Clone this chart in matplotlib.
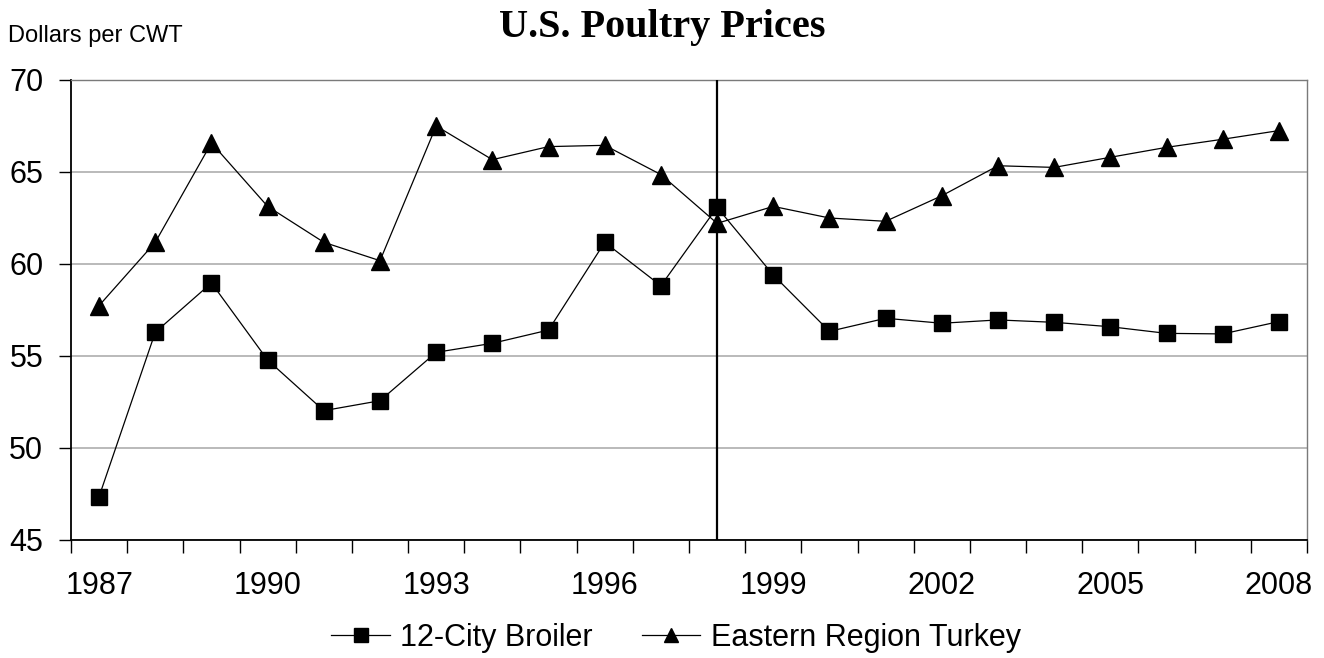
import numpy as np
import matplotlib
matplotlib.use('Agg')
import matplotlib.pyplot as plt

years = list(range(1987, 2009))
broiler = [47.36, 56.29, 58.97, 54.78, 52.03, 52.57, 55.2, 55.69, 56.41, 61.18, 58.82,
           63.08, 59.4, 56.34, 57.05, 56.78, 56.96, 56.83, 56.59, 56.23, 56.2, 56.87]
turkey = [57.74, 61.18, 66.58, 63.13, 61.18, 60.18, 67.5, 65.67, 66.38, 66.45, 64.86,
          62.21, 63.13, 62.5, 62.32, 63.71, 65.34, 65.25, 65.8, 66.34, 66.78, 67.25]
label_years = [1987, 1990, 1993, 1996, 1999, 2002, 2005, 2008]
divider_year = 1998

plt.rcParams['font.family'] = ['Liberation Sans', 'DejaVu Sans']

W, H = 1324, 658
fig = plt.figure(figsize=(W/100, H/100), dpi=100)
ax = fig.add_axes([71/W, (H-540)/H, 1236/W, 460/H])

ax.plot(years, broiler, color='black', lw=0.9, marker='s', ms=11.5, label='12-City Broiler', zorder=3)
ax.plot(years, turkey, color='black', lw=0.9, marker='^', ms=12.5, label='Eastern Region Turkey', zorder=3)
ax.axvline(divider_year, color='black', lw=1.6, zorder=4)

ax.set_xlim(1986.5, 2008.5)
ax.set_ylim(45, 70)
ax.set_yticks([45, 50, 55, 60, 65, 70])
ax.yaxis.grid(True, color='#b4b4b4', lw=1.3)
ax.set_axisbelow(True)

# year labels every 3 years, tick marks between categories
ax.set_xticks(label_years)
ax.set_xticks(np.arange(1986.5, 2009, 1), minor=True)
ax.tick_params(axis='x', which='major', length=0, pad=22, labelsize=22)
ax.tick_params(axis='x', which='minor', length=9, width=1, direction='out')
ax.tick_params(axis='y', length=9, width=1, labelsize=22, pad=11)

for s in ['left', 'bottom']:
    ax.spines[s].set_color('black')
    ax.spines[s].set_linewidth(1.3)
for s in ['top', 'right']:
    ax.spines[s].set_color('#7a7a7a')
    ax.spines[s].set_linewidth(1.0)

fig.text(0.5, 1 - 37/H, 'U.S. Poultry Prices', ha='center', va='baseline',
         fontsize=29, fontweight='bold', family=['Liberation Serif', 'DejaVu Serif'])
fig.text(8/W, 1 - 36/H, 'Dollars per CWT', ha='left', va='center', fontsize=17)

fig.legend(*ax.get_legend_handles_labels(), loc='center', bbox_to_anchor=(676/W, 1 - 638/H),
           ncol=2, frameon=False, fontsize=22, handlelength=1.9, columnspacing=1.6,
           handletextpad=0.35, markerscale=0.85)

fig.savefig('out.png', dpi=100)
